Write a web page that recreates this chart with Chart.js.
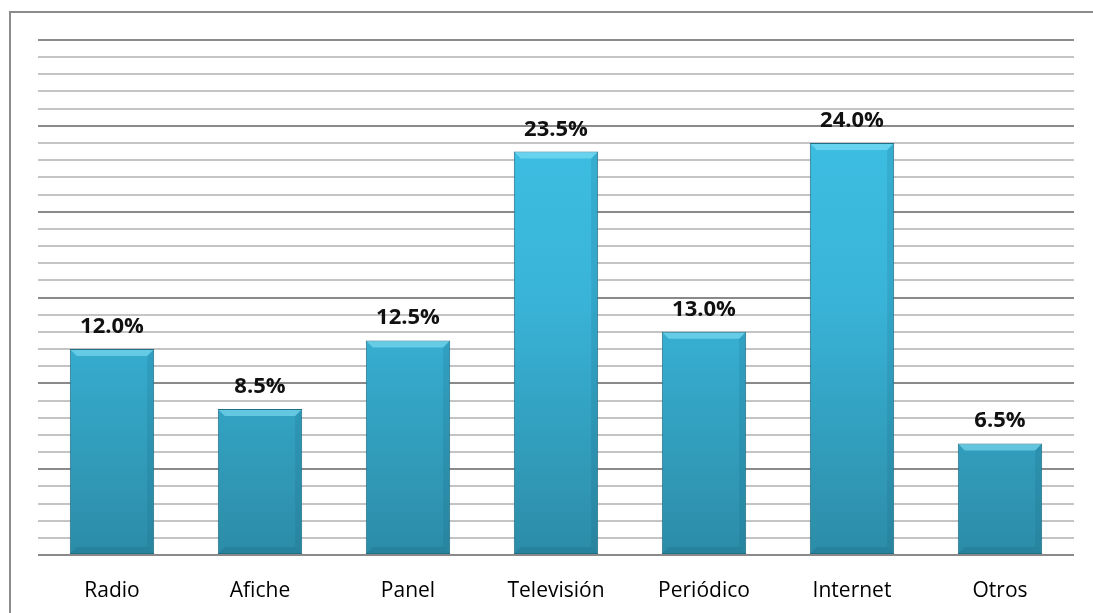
<!DOCTYPE html>
<html>
<head>
<meta charset="utf-8">
<script src="https://cdn.jsdelivr.net/npm/chart.js@4"></script>
<style>
  html, body { margin: 0; padding: 0; background: #fff; }
  #wrap { width: 1093px; height: 613px; position: relative; }
</style>
</head>
<body>
<div id="wrap"><canvas id="myChart" width="1093" height="613"></canvas></div>
<script>
let categories = ["Radio", "Afiche", "Panel", "Televisión", "Periódico", "Internet", "Otros"];
let values = [12.0, 8.5, 12.5, 23.5, 13.0, 24.0, 6.5];
let yMin = 0;
let yMax = 30;
let yStep = 1;

// frame around the whole chart
let framePlugin = {
    id: "frame",
    beforeDraw(chart) {
        let c = chart.ctx;
        c.save();
        c.fillStyle = "#ffffff";
        c.fillRect(0, 0, chart.width, chart.height);
        c.strokeStyle = "#8c8c8c";
        c.lineWidth = 2;
        c.strokeRect(10, 12, chart.width + 20, chart.height + 20);
        c.restore();
    }
};

// bevel highlight on each bar plus value labels
let barDecor = {
    id: "barDecor",
    afterDatasetsDraw(chart) {
        let c = chart.ctx;
        let meta = chart.getDatasetMeta(0);
        c.save();
        meta.data.forEach(function(bar, i) {
            let left = bar.x - bar.width / 2;
            let right = bar.x + bar.width / 2;
            let top = bar.y;
            let bottom = bar.base;
            let b = 7;
            // top bevel
            c.fillStyle = "rgba(140, 230, 250, 0.55)";
            c.beginPath();
            c.moveTo(left + 1, top + 1);
            c.lineTo(right - 1, top + 1);
            c.lineTo(right - b, top + b);
            c.lineTo(left + b, top + b);
            c.closePath();
            c.fill();
            // right side shade
            c.fillStyle = "rgba(20, 90, 115, 0.15)";
            c.beginPath();
            c.moveTo(right - 1, top + 1);
            c.lineTo(right - 1, bottom - 1);
            c.lineTo(right - b, bottom - b);
            c.lineTo(right - b, top + b);
            c.closePath();
            c.fill();
            // bottom shade
            c.fillStyle = "rgba(20, 90, 115, 0.2)";
            c.beginPath();
            c.moveTo(left + 1, bottom - 1);
            c.lineTo(right - 1, bottom - 1);
            c.lineTo(right - b, bottom - b);
            c.lineTo(left + b, bottom - b);
            c.closePath();
            c.fill();

            c.fillStyle = "#111";
            c.font = "bold 22px 'Open Sans'";
            c.textAlign = "center";
            c.textBaseline = "alphabetic";
            c.fillText(values[i].toFixed(1) + "%", bar.x, top - 16);
        });
        c.restore();
    }
};

let ctx = document.getElementById("myChart").getContext("2d");
let chart = new Chart(ctx, {
    type: "bar",
    data: {
        labels: categories,
        datasets: [{
            data: values,
            backgroundColor: function(context) {
                let area = context.chart.chartArea;
                if (!area) return "#38b4d6";
                let g = context.chart.ctx.createLinearGradient(0, area.top, 0, area.bottom);
                g.addColorStop(0, "#3fc3e8");
                g.addColorStop(0.5, "#39b4d8");
                g.addColorStop(1, "#2c8ca7");
                return g;
            },
            borderColor: "#1f6f86",
            borderWidth: 1,
            borderSkipped: false,
            barPercentage: 0.57,
            categoryPercentage: 1.0
        }]
    },
    options: {
        responsive: false,
        animation: false,
        layout: { padding: { left: 38, right: 19, top: 40, bottom: 0 } },
        plugins: {
            legend: { display: false },
            tooltip: { enabled: false }
        },
        scales: {
            x: {
                grid: { display: false },
                border: { display: false },
                ticks: {
                    color: "#000",
                    font: { family: "Open Sans", size: 21 },
                    padding: 15
                },
                afterFit: function(scale) { scale.height = 58; }
            },
            y: {
                min: yMin,
                max: yMax,
                ticks: { display: false, stepSize: yStep },
                border: { display: false },
                grid: {
                    drawTicks: false,
                    lineWidth: 2,
                    color: function(context) {
                        return context.tick.value % 5 === 0 ? "#8a8a8a" : "#c4c4c4";
                    }
                },
                afterFit: function(scale) { scale.width = 0; }
            }
        }
    },
    plugins: [framePlugin, barDecor]
});
</script>
</body>
</html>
